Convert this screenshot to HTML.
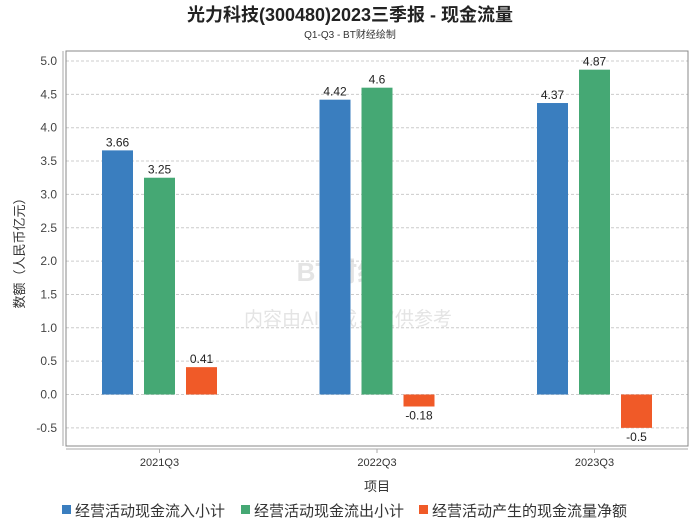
<!DOCTYPE html>
<html><head><meta charset="utf-8"><style>
body{margin:0;background:#fff;}
svg text{font-family:"Liberation Sans","Noto Sans CJK SC",sans-serif;}
</style></head><body>
<svg width="700" height="524" viewBox="0 0 700 524">
<text x="350" y="21" text-anchor="middle" font-size="18" font-weight="bold" fill="#222">光力科技(300480)2023三季报 - 现金流量</text>
<text x="350" y="38" text-anchor="middle" font-size="10" fill="#333">Q1-Q3 - BT财经绘制</text>
<text x="340" y="281" text-anchor="middle" font-size="26" font-weight="bold" fill="#e4e4e4">BT财经</text>
<text x="348" y="325" text-anchor="middle" font-size="19" fill="#e4e4e4">内容由AI生成，仅供参考</text>
<g id="grid"></g>
<rect x="66" y="51" width="622" height="395" fill="none" stroke="#888" stroke-width="1"/>
<line x1="63" y1="51" x2="63" y2="446" stroke="#aaa"/>
<line x1="66" y1="449" x2="688" y2="449" stroke="#aaa"/>
<g id="bars"></g>
<text transform="translate(24,250) rotate(-90)" text-anchor="middle" font-size="13" fill="#333">数额（人民币亿元）</text>
<text x="377" y="491" text-anchor="middle" font-size="13" fill="#333">项目</text>
<g id="legend"></g>
</svg>
<script>
const categories=["2021Q3","2022Q3","2023Q3"];
const seriesNames=["经营活动现金流入小计","经营活动现金流出小计","经营活动产生的现金流量净额"];
const inflow=[3.66,4.42,4.37];
const outflow=[3.25,4.6,4.87];
const net=[0.41,-0.18,-0.5];
const yTicks=[5.0,4.5,4.0,3.5,3.0,2.5,2.0,1.5,1.0,0.5,0.0,-0.5];
const colors=["#3a7ebf","#45a874","#f05a28"];
const NS="http://www.w3.org/2000/svg";
const y=v=>394.5-v*66.7;
const xc=i=>159.5+i*217.5;
const grid=document.getElementById('grid');
yTicks.forEach(t=>{
 const l=document.createElementNS(NS,'line');
 l.setAttribute('x1',66);l.setAttribute('x2',688);l.setAttribute('y1',y(t));l.setAttribute('y2',y(t));
 l.setAttribute('stroke','#ccc');l.setAttribute('stroke-dasharray','3,2');
 
 
 grid.appendChild(l);
 const tx=document.createElementNS(NS,'text');
 tx.setAttribute('x',57);tx.setAttribute('y',y(t)+4);tx.setAttribute('text-anchor','end');
 tx.setAttribute('font-size','12');tx.setAttribute('fill','#444');tx.textContent=t.toFixed(1);
 
 
 grid.appendChild(tx);
});
const bars=document.getElementById('bars');
const series=[inflow,outflow,net];
categories.forEach((c,i)=>{
 const tk=document.createElementNS(NS,'line');
 tk.setAttribute('x1',xc(i));tk.setAttribute('x2',xc(i));tk.setAttribute('y1',449);tk.setAttribute('y2',453);tk.setAttribute('stroke','#aaa');
 
 
 bars.appendChild(tk);
 const lb=document.createElementNS(NS,'text');
 lb.setAttribute('x',xc(i));lb.setAttribute('y',466);lb.setAttribute('text-anchor','middle');lb.setAttribute('font-size','11');lb.setAttribute('fill','#333');
 lb.textContent=c;
 
 
 bars.appendChild(lb);
 series.forEach((s,k)=>{
  const v=s[i];
  const bx=xc(i)-57.5+k*42;
  const r=document.createElementNS(NS,'rect');
  r.setAttribute('x',bx);r.setAttribute('width',31);
  r.setAttribute('y',Math.min(y(v),y(0)));r.setAttribute('height',Math.abs(y(v)-y(0)));
  r.setAttribute('fill',colors[k]);
  
  
  bars.appendChild(r);
  const t=document.createElementNS(NS,'text');
  t.setAttribute('x',bx+15.5);
  t.setAttribute('y',v>=0?y(v)-4:y(v)+13);
  t.setAttribute('text-anchor','middle');t.setAttribute('font-size','12');t.setAttribute('fill','#222');
  t.textContent=String(v);
  
  
  bars.appendChild(t);
 });
});
const lg=document.getElementById('legend');
const lx=[62,241,419];
seriesNames.forEach((n,k)=>{
 const r=document.createElementNS(NS,'rect');
 r.setAttribute('x',lx[k]);r.setAttribute('y',505);r.setAttribute('width',9);r.setAttribute('height',9);r.setAttribute('fill',colors[k]);
 
 
 lg.appendChild(r);
 const t=document.createElementNS(NS,'text');
 t.setAttribute('x',lx[k]+13);t.setAttribute('y',516);t.setAttribute('font-size','15');t.setAttribute('fill','#333');
 t.textContent=n;
 
 
 lg.appendChild(t);
});
</script>
</body></html>
